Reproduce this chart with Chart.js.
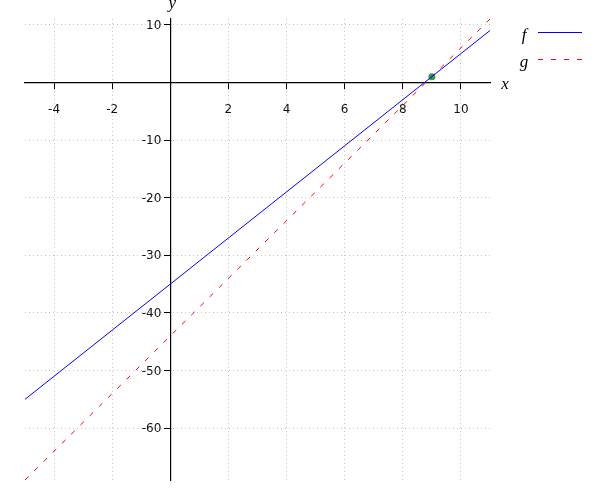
<!DOCTYPE html>
<html>
<head>
<meta charset="utf-8">
<script src="https://cdn.jsdelivr.net/npm/chart.js@4"></script>
<style>
  html, body { margin: 0; padding: 0; background: #fff; }
</style>
</head>
<body>
<canvas id="chart" width="600" height="500"></canvas>
<script>
// data
const seriesNames = ['f', 'g'];
const xEnds = [-5, 11];
const fValues = [-55, 9];
const gValues = [-69, 11];
const meetX = [9];
const meetY = [1];
const xTicks = [-4, -2, 2, 4, 6, 8, 10];
const yTicks = [-60, -50, -40, -30, -20, -10, 10];
const xRange = [-5, 11];
const yRange = [-69, 11];

const fColor = '#0000ff';
const gColor = '#ff0000';
const gDash = [5, 8];
const tickFont = {family: '"DejaVu Sans"', size: 12};

function toPoints(xs, ys) {
    return xs.map((x, i) => ({x: x, y: ys[i]}));
}

// y tick labels, legend and axis names, drawn on top
// (chart.js puts labels of a value-positioned y axis right on the line)
const extras = {
    id: 'extras',
    afterDraw(chart) {
        const ctx = chart.ctx;
        const xs = chart.scales.x;
        const ys = chart.scales.y;
        const x0 = xs.getPixelForValue(0);
        ctx.save();

        ctx.font = tickFont.size + 'px ' + tickFont.family;
        ctx.fillStyle = '#111';
        ctx.textAlign = 'right';
        ctx.textBaseline = 'middle';
        yTicks.forEach(v => {
            ctx.fillText(String(v), x0 - 9, ys.getPixelForValue(v) + 1);
        });

        ctx.font = 'italic 17px "Liberation Serif"';
        ctx.fillStyle = '#000';
        ctx.textAlign = 'center';
        ctx.textBaseline = 'alphabetic';
        ctx.fillText('x', xs.right + 15, ys.getPixelForValue(0) + 7);
        ctx.fillText('y', x0 + 2, ys.top - 11);

        const rows = [
            {name: seriesNames[0], color: fColor, dash: [], y: 32},
            {name: seriesNames[1], color: gColor, dash: gDash, y: 59}
        ];
        rows.forEach(r => {
            ctx.fillText(r.name, 524, r.y + 8);
            ctx.beginPath();
            ctx.setLineDash(r.dash);
            ctx.strokeStyle = r.color;
            ctx.lineWidth = 1;
            ctx.moveTo(538, r.y + 0.5);
            ctx.lineTo(582, r.y + 0.5);
            ctx.stroke();
        });
        ctx.restore();
    }
};

new Chart(document.getElementById('chart'), {
    type: 'scatter',
    data: {
        datasets: [
            {
                label: seriesNames[0],
                type: 'line',
                data: toPoints(xEnds, fValues),
                borderColor: fColor,
                borderWidth: 1,
                pointRadius: 0,
                fill: false
            },
            {
                label: seriesNames[1],
                type: 'line',
                data: toPoints(xEnds, gValues),
                borderColor: gColor,
                borderWidth: 1,
                borderDash: gDash,
                pointRadius: 0,
                fill: false
            },
            {
                label: 'meet',
                data: toPoints(meetX, meetY),
                backgroundColor: '#2f9a4a',
                borderWidth: 0,
                pointRadius: 3.5
            }
        ]
    },
    options: {
        responsive: false,
        animation: false,
        layout: {padding: {left: 25, top: 19, right: 110, bottom: 20}},
        plugins: {
            legend: {display: false},
            tooltip: {enabled: false}
        },
        scales: {
            x: {
                type: 'linear',
                position: {y: 0},
                min: xRange[0],
                max: xRange[1],
                afterBuildTicks: axis => { axis.ticks = xTicks.map(v => ({value: v})); },
                grid: {color: '#c8c8c8', tickColor: '#000', tickLength: 6, lineWidth: 1},
                border: {color: '#000', width: 1.2, dash: [1, 3]},
                ticks: {font: tickFont, color: '#111', padding: 14, maxRotation: 0, autoSkip: false}
            },
            y: {
                type: 'linear',
                position: {x: 0},
                min: yRange[0],
                max: yRange[1],
                afterBuildTicks: axis => { axis.ticks = yTicks.map(v => ({value: v})); },
                grid: {color: '#c8c8c8', tickColor: '#000', tickLength: 6, lineWidth: 1},
                border: {color: '#000', width: 1.2, dash: [1, 3]},
                ticks: {display: false}
            }
        }
    },
    plugins: [extras]
});
</script>
</body>
</html>
